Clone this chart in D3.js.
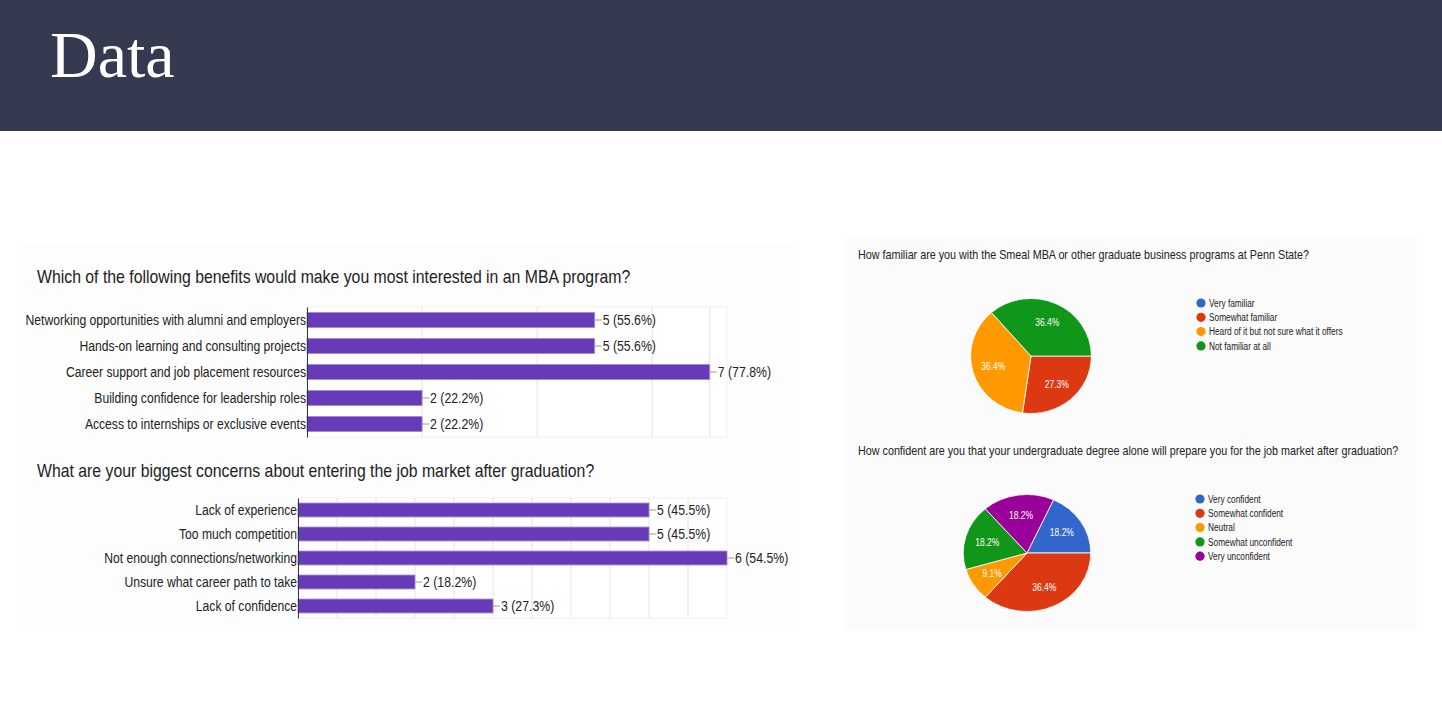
<!DOCTYPE html>
<html>
<head>
<meta charset="utf-8">
<script src="https://cdn.jsdelivr.net/npm/d3@7"></script>
<style>
  html, body { margin: 0; padding: 0; background: #fff; }
  svg { display: block; }
  text { font-family: "Liberation Sans", Arial, sans-serif; }
</style>
</head>
<body>
<svg id="slide" width="1442" height="704"></svg>
<script>
// ---- data ----
const benefitTitle = "Which of the following benefits would make you most interested in an MBA program?";
const benefitLabels = [
  "Networking opportunities with alumni and employers",
  "Hands-on learning and consulting projects",
  "Career support and job placement resources",
  "Building confidence for leadership roles",
  "Access to internships or exclusive events"
];
const benefitCounts = [5, 5, 7, 2, 2];
const benefitPcts = ["55.6%", "55.6%", "77.8%", "22.2%", "22.2%"];
const benefitGrid = [2, 4, 6, 7];

const concernTitle = "What are your biggest concerns about entering the job market after graduation?";
const concernLabels = [
  "Lack of experience",
  "Too much competition",
  "Not enough connections/networking",
  "Unsure what career path to take",
  "Lack of confidence"
];
const concernCounts = [5, 5, 6, 2, 3];
const concernPcts = ["45.5%", "45.5%", "54.5%", "18.2%", "27.3%"];
const concernGrid = [1, 1.5, 2, 2.5, 3, 3.5, 4, 4.5, 5, 5.5];

const familiarTitle = "How familiar are you with the Smeal MBA or other graduate business programs at Penn State?";
const familiarLabels = ["Very familiar", "Somewhat familiar", "Heard of it but not sure what it offers", "Not familiar at all"];
const familiarValues = [0, 27.3, 36.4, 36.4];

const confidentTitle = "How confident are you that your undergraduate degree alone will prepare you for the job market after graduation?";
const confidentLabels = ["Very confident", "Somewhat confident", "Neutral", "Somewhat unconfident", "Very unconfident"];
const confidentValues = [18.2, 36.4, 9.1, 18.2, 18.2];

const googleColors = ["#3366cc", "#dc3912", "#ff9900", "#109618", "#990099"];

// ---- drawing ----
const svg = d3.select("#slide");
const SQ = 0.81; // the screenshot text is horizontally narrow

// text helper: narrow text anchored at (x,y)
const say = (parent, x, y, str, size, opts = {}) => {
  return parent.append("text")
    .attr("transform", "translate(" + x + "," + y + ") scale(" + (opts.sx || SQ) + ",1)")
    .attr("font-size", size)
    .attr("fill", opts.fill || "#222")
    .attr("text-anchor", opts.anchor || "start")
    .attr("dy", opts.dy || 0)
    .text(str);
};

// header band
svg.append("rect").attr("x", 0).attr("y", 0).attr("width", 1442).attr("height", 131).attr("fill", "#343a50");
svg.append("text")
  .attr("x", 50).attr("y", 77)
  .style("font-family", "'Liberation Serif', 'DejaVu Serif', serif")
  .attr("font-size", 66)
  .attr("fill", "#fff")
  .text("Data");

// faint screenshot panels
svg.append("rect").attr("x", 22).attr("y", 245).attr("width", 776).attr("height", 385).attr("fill", "#fdfdfd");
svg.append("rect").attr("x", 845).attr("y", 237).attr("width", 572).attr("height", 393).attr("fill", "#fbfbfb");

// horizontal bar chart
const barChart = (cfg) => {
  const g = svg.append("g");
  const x = d3.scaleLinear().domain(cfg.domain).range([cfg.left, cfg.right]);
  const y = d3.scaleBand().domain(d3.range(cfg.labels.length))
    .range([cfg.top, cfg.bottom]).paddingInner(cfg.pad).paddingOuter(cfg.pad / 2);

  say(g, cfg.titleX, cfg.titleY, cfg.title, 18.5, { sx: 0.855 });

  // plot frame + grid
  g.append("rect").attr("x", cfg.left).attr("y", cfg.top)
    .attr("width", cfg.right - cfg.left).attr("height", cfg.bottom - cfg.top)
    .attr("fill", "#fff").attr("stroke", "#f0f0f0");
  g.append("g").selectAll("line").data(cfg.grid).join("line")
    .attr("x1", d => x(d)).attr("x2", d => x(d))
    .attr("y1", cfg.top).attr("y2", cfg.bottom)
    .attr("stroke", "#e3e3e3");

  g.append("g").selectAll("rect").data(cfg.counts).join("rect")
    .attr("x", x(cfg.domain[0]))
    .attr("y", (d, i) => y(i))
    .attr("width", d => x(d) - x(cfg.domain[0]))
    .attr("height", y.bandwidth())
    .attr("fill", "#673ab7")
    .attr("stroke", "#a58bd6")
    .attr("stroke-width", 0.8);

  // axis on the left, category labels
  const axis = g.append("g").attr("transform", "translate(" + cfg.left + ",0)")
    .call(d3.axisLeft(y).tickSize(0).tickPadding(0).tickFormat(() => ""));
  axis.select(".domain").attr("stroke", "#333");
  cfg.labels.forEach((lab, i) => {
    say(g, cfg.left - 1, y(i) + y.bandwidth() / 2, lab, 15, { anchor: "end", dy: "0.36em" });
  });

  // value annotations
  cfg.counts.forEach((c, i) => {
    const cy = y(i) + y.bandwidth() / 2;
    g.append("line").attr("x1", x(c)).attr("x2", x(c) + 7)
      .attr("y1", cy).attr("y2", cy).attr("stroke", "#999");
    say(g, x(c) + 8, cy, c + " (" + cfg.pcts[i] + ")", 15, { dy: "0.36em", sx: 0.82 });
  });
};

barChart({
  title: benefitTitle, titleX: 37, titleY: 283,
  labels: benefitLabels, counts: benefitCounts, pcts: benefitPcts,
  domain: [0, 7.3], left: 307, right: 727, top: 307, bottom: 437, pad: 0.42,
  grid: benefitGrid
});

barChart({
  title: concernTitle, titleX: 37, titleY: 477,
  labels: concernLabels, counts: concernCounts, pcts: concernPcts,
  domain: [0.5, 6], left: 298, right: 727, top: 498, bottom: 618, pad: 0.42,
  grid: concernGrid
});

// pie chart
const pieChart = (cfg) => {
  const g = svg.append("g");
  say(g, cfg.titleX, cfg.titleY, cfg.title, 12.5, { sx: 0.862 });

  const pie = d3.pie().sort(null).value(d => d)
    .startAngle(cfg.start).endAngle(cfg.start + 2 * Math.PI);
  const arcs = pie(cfg.values);
  const arc = d3.arc().innerRadius(0).outerRadius(cfg.r);
  const labelArc = d3.arc().innerRadius(cfg.r * 0.65).outerRadius(cfg.r * 0.65);

  const pg = g.append("g").attr("transform", "translate(" + cfg.cx + "," + cfg.cy + ") scale(" + cfg.sx + ",1)");
  pg.selectAll("path").data(arcs).join("path")
    .attr("d", arc)
    .attr("fill", (d, i) => googleColors[i])
    .attr("stroke", "#fff").attr("stroke-width", 0.8);
  arcs.filter(d => d.value > 0).forEach(d => {
    const [lx, ly] = labelArc.centroid(d);
    pg.append("text")
      .attr("transform", "translate(" + lx + "," + ly + ") scale(" + (SQ / cfg.sx) + ",1)")
      .attr("text-anchor", "middle").attr("dy", "0.35em")
      .attr("font-size", 10.5).attr("fill", "#fff")
      .text(d.value.toFixed(1) + "%");
  });

  const lg = g.append("g");
  cfg.labels.forEach((lab, i) => {
    const ly = cfg.legY + i * 14.3;
    lg.append("circle").attr("cx", cfg.legX).attr("cy", ly).attr("r", 4.6).attr("fill", googleColors[i]);
    say(lg, cfg.legX + 8, ly, lab, 11, { dy: "0.35em", sx: 0.755 });
  });
};

const rad = Math.PI / 180;
pieChart({
  title: familiarTitle, titleX: 858, titleY: 259,
  values: familiarValues, labels: familiarLabels,
  cx: 1031, cy: 356, r: 57.5, sx: 1.05, start: 90 * rad,
  legX: 1201, legY: 303
});

// second pie is turned so that its first slice ends at 3 o'clock
pieChart({
  title: confidentTitle, titleX: 858, titleY: 455,
  values: confidentValues, labels: confidentLabels,
  cx: 1027, cy: 553, r: 58.5, sx: 1.09,
  start: (90 - 360 * confidentValues[0] / d3.sum(confidentValues)) * rad,
  legX: 1200, legY: 499
});
</script>
</body>
</html>
